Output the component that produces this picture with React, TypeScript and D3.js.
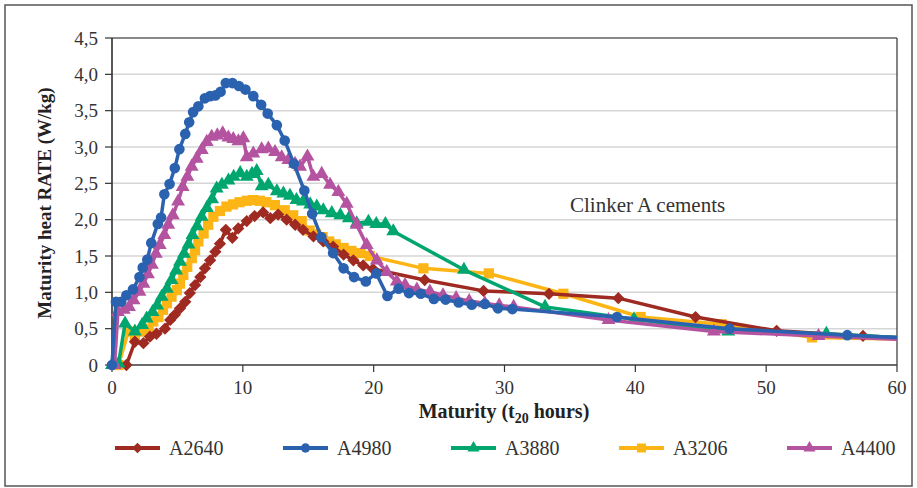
import React from 'react';
import * as d3 from 'd3';

const A2640: [number, number][] = [
  [1.1, 0], [1.75, 0.32], [2.4, 0.3], [2.9, 0.39], [3.4, 0.43], [4.05, 0.5], [4.45, 0.62], [4.8, 0.69],
  [5.2, 0.78], [5.6, 0.87], [5.95, 0.99], [6.35, 1.1], [6.75, 1.21], [7.1, 1.33], [7.5, 1.44], [7.9, 1.56],
  [8.25, 1.67], [8.7, 1.86], [9.2, 1.75], [9.65, 1.88], [10.3, 1.98], [10.9, 2.05], [11.55, 2.1], [12.1, 2.02],
  [12.7, 2.07], [13.35, 2.0], [14.0, 1.93], [14.6, 1.86], [15.4, 1.77], [16.15, 1.7], [16.9, 1.63], [17.7, 1.52],
  [18.45, 1.44], [19.2, 1.37], [19.95, 1.32], [23.9, 1.17], [28.4, 1.02], [33.4, 0.98], [38.7, 0.92], [44.6, 0.66],
  [50.8, 0.47], [57.4, 0.4], [62, 0.36],
];

const A4980: [number, number][] = [
  [0, 0], [0.3, 0.87], [0.7, 0.87], [1.1, 0.96], [1.6, 1.04], [2.1, 1.21], [2.35, 1.34], [2.7, 1.45], [3.0, 1.68],
  [3.5, 1.94], [3.75, 2.03], [4.0, 2.35], [4.4, 2.49], [4.8, 2.71], [5.15, 2.97], [5.6, 3.18], [5.9, 3.34],
  [6.2, 3.48], [6.6, 3.56], [7.1, 3.67], [7.5, 3.7], [7.9, 3.71], [8.3, 3.76], [8.7, 3.88], [9.2, 3.88],
  [9.7, 3.84], [10.2, 3.79], [10.8, 3.7], [11.4, 3.58], [11.9, 3.46], [12.6, 3.3], [13.2, 3.09], [13.9, 2.77],
  [14.7, 2.4], [15.3, 2.08], [16.0, 1.76], [16.9, 1.54], [17.7, 1.33], [18.5, 1.21], [19.4, 1.15], [20.2, 1.26],
  [21.05, 0.95], [21.9, 1.05], [22.7, 0.99], [23.6, 0.98], [24.6, 0.91], [25.5, 0.9], [26.5, 0.86], [27.5, 0.83],
  [28.5, 0.84], [29.5, 0.78], [30.6, 0.77], [38.6, 0.66], [47.2, 0.5], [56.2, 0.41], [62, 0.36],
];

const A3880: [number, number][] = [
  [0, 0], [0.5, 0.02], [1.0, 0.57], [1.75, 0.46], [2.3, 0.55], [2.65, 0.64], [3.1, 0.73], [3.45, 0.82], [3.8, 0.94],
  [4.2, 1.05], [4.55, 1.17], [4.9, 1.3], [5.2, 1.42], [5.5, 1.53], [5.85, 1.66], [6.15, 1.79], [6.5, 1.91],
  [6.85, 2.04], [7.25, 2.16], [7.65, 2.28], [8.0, 2.43], [8.4, 2.48], [8.9, 2.54], [9.3, 2.59], [9.8, 2.64],
  [10.3, 2.59], [10.7, 2.63], [11.06, 2.67], [11.44, 2.46], [11.95, 2.48], [12.6, 2.39], [13.1, 2.36], [13.6, 2.33],
  [14.1, 2.27], [14.6, 2.25], [15.15, 2.21], [15.65, 2.18], [16.15, 2.13], [16.8, 2.09], [17.45, 2.06], [18.1, 2.02],
  [18.7, 1.95], [19.6, 1.97], [20.2, 1.94], [20.9, 1.94], [21.5, 1.84], [26.9, 1.31], [33.1, 0.8], [39.9, 0.63],
  [47.1, 0.46], [54.6, 0.43], [62, 0.36],
];

const A3206: [number, number][] = [
  [0.5, 0], [1.25, 0.46], [1.75, 0.41], [2.25, 0.46], [2.8, 0.5], [3.15, 0.6], [3.55, 0.66], [3.9, 0.76], [4.2, 0.85],
  [4.55, 0.94], [4.95, 1.03], [5.2, 1.12], [5.45, 1.24], [5.75, 1.35], [6.1, 1.47], [6.35, 1.58], [6.6, 1.7],
  [7.0, 1.81], [7.35, 1.93], [7.75, 2.04], [8.25, 2.12], [8.75, 2.18], [9.25, 2.21], [9.75, 2.24], [10.3, 2.26],
  [10.8, 2.27], [11.3, 2.26], [11.8, 2.24], [12.45, 2.2], [13.2, 2.13], [13.85, 2.06], [14.5, 1.98], [15.1, 1.85],
  [15.6, 1.8], [16.1, 1.76], [16.6, 1.7], [17.1, 1.66], [17.7, 1.61], [18.3, 1.57], [19.0, 1.54], [19.7, 1.5],
  [23.8, 1.33], [28.8, 1.26], [34.5, 0.98], [40.4, 0.66], [46.6, 0.56], [53.5, 0.38], [62, 0.35],
];

const A4400: [number, number][] = [
  [0.2, 0], [0.45, 0.73], [0.9, 0.76], [1.3, 0.8], [1.65, 0.89], [2.1, 1.01], [2.4, 1.12], [2.75, 1.25], [3.05, 1.38],
  [3.35, 1.53], [3.65, 1.65], [4.0, 1.79], [4.3, 1.93], [4.65, 2.06], [5.05, 2.25], [5.4, 2.45], [5.76, 2.59],
  [6.09, 2.73], [6.47, 2.84], [6.86, 2.96], [7.24, 3.07], [7.62, 3.14], [8.05, 3.16], [8.46, 3.19], [8.9, 3.13],
  [9.27, 3.11], [9.66, 3.08], [10.04, 3.12], [10.3, 2.86], [10.8, 2.91], [11.44, 2.97], [11.95, 2.98], [12.46, 2.93],
  [12.97, 2.86], [13.48, 2.82], [13.99, 2.77], [14.37, 2.73], [14.94, 2.87], [15.39, 2.59], [16.03, 2.63],
  [16.67, 2.48], [17.3, 2.38], [17.94, 2.22], [18.7, 1.93], [19.47, 1.65], [20.24, 1.44], [21.0, 1.28],
  [21.77, 1.15], [22.4, 1.1], [23.3, 1.04], [24.3, 1.01], [25.3, 0.96], [26.3, 0.92], [27.3, 0.88], [28.5, 0.85],
  [29.6, 0.82], [30.7, 0.8], [37.95, 0.62], [46.0, 0.46], [54.0, 0.4], [62, 0.34],
];

const seriesNames = ['A2640', 'A4980', 'A3880', 'A3206', 'A4400'];
const seriesData = [A2640, A4980, A3880, A3206, A4400];
const seriesColors = ['#9E2A22', '#2B62B0', '#00A66E', '#FDB515', '#B4539F'];
const seriesShapes = ['diamond', 'circle', 'triangle', 'square', 'triangle'];
const drawOrder = [3, 0, 2, 4, 1];

const yTicks = [0, 0.5, 1, 1.5, 2, 2.5, 3, 3.5, 4, 4.5];
const xTicks = [0, 10, 20, 30, 40, 50, 60];

const W = 917, H = 488;
const L = 112, R = 897, T = 38, B = 365;

function markerPath(shape: string, size: number) {
  if (shape === 'circle') return d3.symbol(d3.symbolCircle, size * 0.85)();
  if (shape === 'square') return d3.symbol(d3.symbolSquare, size)();
  if (shape === 'triangle') return d3.symbol(d3.symbolTriangle, size * 0.8)();
  return d3.symbol(d3.symbolSquare, size * 0.72)();
}

function Marker({ shape, x, y, color, size }: any) {
  const rot = shape === 'diamond' ? 45 : 0;
  return (
    <path d={markerPath(shape, size) || ''} transform={`translate(${x},${y}) rotate(${rot})`} fill={color} />
  );
}

export default function App() {
  const x = d3.scaleLinear().domain([0, 60]).range([L, R]);
  const y = d3.scaleLinear().domain([0, 4.5]).range([B, T]);
  const line = d3.line<[number, number]>().x((d) => x(d[0])).y((d) => y(d[1]));
  const fmt = (v: number) => (v === 0 ? '0' : v.toFixed(1).replace('.', ','));
  const font = '"Liberation Serif", "DejaVu Serif", serif';

  return (
    <svg width={W} height={H} style={{ position: 'absolute', left: 0, top: 0, background: '#fff' }} fontFamily={font}>
      <defs>
        <clipPath id="plot">
          <rect x={L - 8} y={T - 10} width={R - L + 8} height={B - T + 20} />
        </clipPath>
      </defs>
      <rect x={5} y={5} width={907} height={481} fill="#fff" stroke="#555" strokeWidth={1.5} />
      {yTicks.map((t) => (
        <line key={'g' + t} x1={L} x2={R} y1={y(t)} y2={y(t)} stroke="#d6d6d6" strokeWidth={1.5} />
      ))}
      <line x1={L} x2={R} y1={T} y2={T} stroke="#333" strokeWidth={1.2} />
      <line x1={R} x2={R} y1={T} y2={B} stroke="#333" strokeWidth={1.2} />
      <line x1={L} x2={L} y1={T} y2={B} stroke="#222" strokeWidth={1.5} />
      <line x1={L} x2={R} y1={B} y2={B} stroke="#444" strokeWidth={1.5} />
      {yTicks.map((t) => (
        <g key={'yt' + t}>
          <line x1={L - 7} x2={L} y1={y(t)} y2={y(t)} stroke="#333" strokeWidth={1.2} />
          <text x={L - 14} y={y(t)} dy="0.35em" textAnchor="end" fontSize={19} fill="#333">{fmt(t)}</text>
        </g>
      ))}
      {xTicks.map((t) => (
        <g key={'xt' + t}>
          <line x1={x(t)} x2={x(t)} y1={B} y2={B + 7} stroke="#333" strokeWidth={1.2} />
          <text x={x(t)} y={B + 29} textAnchor="middle" fontSize={19} fill="#333">{t}</text>
        </g>
      ))}
      <g clipPath="url(#plot)">
        {drawOrder.map((i) => (
          <g key={seriesNames[i]}>
            <path d={line(seriesData[i]) || ''} fill="none" stroke={seriesColors[i]} strokeWidth={3.5} strokeLinejoin="round" />
            {seriesData[i].map((d, j) => (
              <Marker key={j} shape={seriesShapes[i]} x={x(d[0])} y={y(d[1])} color={seriesColors[i]} size={105} />
            ))}
          </g>
        ))}
      </g>
      <text x={570} y={212} fontSize={21} fill="#333">Clinker A cements</text>
      <text transform={`translate(51,203) rotate(-90)`} textAnchor="middle" fontSize={19} fontWeight="bold" fill="#222">
        Maturity heat RATE (W/kg)
      </text>
      <text x={504} y={418} textAnchor="middle" fontSize={20} fontWeight="bold" fill="#222">
        Maturity (t<tspan fontSize={14} dy={5}>20</tspan><tspan dy={-5}> hours)</tspan>
      </text>
      {seriesNames.map((n, i) => {
        const lx = 115 + i * 168;
        return (
          <g key={'lg' + n}>
            <line x1={lx} x2={lx + 45} y1={448} y2={448} stroke={seriesColors[i]} strokeWidth={4} />
            <Marker shape={seriesShapes[i]} x={lx + 22.5} y={448} color={seriesColors[i]} size={80} />
            <text x={lx + 54} y={448} dy="0.35em" fontSize={20} fill="#333">{n}</text>
          </g>
        );
      })}
    </svg>
  );
}
